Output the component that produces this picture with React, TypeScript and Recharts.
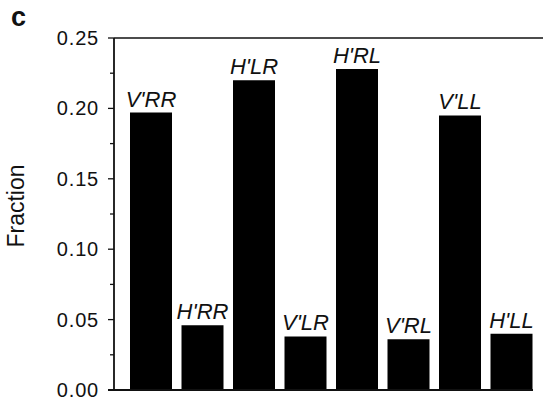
import React from "react";
import { BarChart, Bar, XAxis, YAxis, LabelList, ReferenceLine } from "recharts";

const categories = ["V'RR", "H'RR", "H'LR", "V'LR", "H'RL", "V'RL", "V'LL", "H'LL"];
const fractions = [0.197, 0.046, 0.22, 0.038, 0.228, 0.036, 0.195, 0.04];
const yTicks = [0, 0.025, 0.05, 0.075, 0.1, 0.125, 0.15, 0.175, 0.2, 0.225, 0.25];
const majorTicks = [0, 0.05, 0.1, 0.15, 0.2, 0.25];

const data = categories.map((name, i) => ({ name, value: fractions[i] }));

const FONT = "'Liberation Sans', Arial, Helvetica, sans-serif";
const INK = "#111";

const YTick = (props: any) => {
	const { x, y, payload } = props;
	const v = payload.value;
	const major = majorTicks.some((m) => Math.abs(m - v) < 1e-9);
	return (
		<g>
			<line x1={x} x2={x - (major ? 6 : 4)} y1={y} y2={y} stroke={INK} strokeWidth={1.3} />
			{major && (
				<text
					x={x - 15}
					y={y}
					textAnchor="end"
					dominantBaseline="central"
					fontFamily={FONT}
					fontSize={20}
					letterSpacing={0.8}
					fill={INK}
				>
					{v.toFixed(2)}
				</text>
			)}
		</g>
	);
};

const BarName = (props: any) => {
	const { x, y, width, value } = props;
	return (
		<text
			x={x + width / 2}
			y={y - 6}
			textAnchor="middle"
			fontFamily={FONT}
			fontStyle="italic"
			fontSize={22}
			fill={INK}
		>
			{value}
		</text>
	);
};

// bottom rule runs a bit past the y axis on the left and stops short on the right
const BaseLine = (props: any) => {
	const { x1, x2, y1, y2 } = props;
	return <line x1={x1 - 6} x2={x2 - 10} y1={y1} y2={y2} stroke={INK} strokeWidth={1.8} />;
};

const App = () => {
	return (
		<div style={{ position: "absolute", left: 0, top: 0, width: 543, height: 401, background: "#fff" }}>
			<BarChart width={543} height={401} data={data} margin={{ top: 38, right: 0, bottom: 11, left: 14 }}>
				<XAxis dataKey="name" hide padding={{ left: 11, right: 6 }} />
				<YAxis
					width={100}
					domain={[0, 0.25]}
					ticks={yTicks}
					interval={0}
					tickSize={0}
					tickMargin={0}
					tickLine={false}
					tick={<YTick />}
					axisLine={{ stroke: INK, strokeWidth: 1.8 }}
				/>
				<ReferenceLine y={0.25} stroke={INK} strokeWidth={1.5} />
				<ReferenceLine y={0} shape={<BaseLine />} />
				<Bar dataKey="value" fill="#000" barSize={42} isAnimationActive={false}>
					<LabelList dataKey="name" content={<BarName />} />
				</Bar>
			</BarChart>
			<svg
				width={543}
				height={401}
				style={{ position: "absolute", left: 0, top: 0, pointerEvents: "none" }}
			>
				<text x={11} y={26} fontFamily={FONT} fontWeight={900} fontSize={27} fill={INK}>
					c
				</text>
				<text
					x={0}
					y={0}
					transform="translate(16, 206) rotate(-90)"
					textAnchor="middle"
					dominantBaseline="central"
					fontFamily={FONT}
					fontSize={23}
					fill={INK}
				>
					Fraction
				</text>
			</svg>
		</div>
	);
};

export default App;
